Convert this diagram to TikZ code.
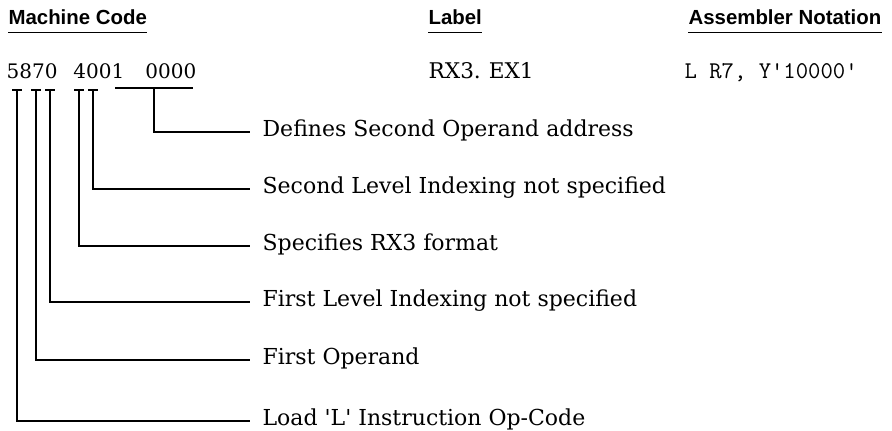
\documentclass[tikz,border=0pt]{standalone}
\usepackage{fontspec}
\newfontfamily\headfont{Liberation Sans}
\newfontfamily\bodyfont{DejaVu Serif}

\begin{document}
\begin{tikzpicture}[x=0.5pt,y=-0.5pt,line width=0.6pt,
		head/.style={font=\headfont\bfseries\fontsize{10.2}{12}\selectfont,inner sep=0pt,anchor=base west},
		code/.style={font=\bodyfont\fontsize{10}{12}\selectfont,inner sep=0pt,anchor=base west},
		desc/.style={font=\bodyfont\fontsize{11}{13}\selectfont,inner xsep=6pt,inner ysep=0pt,
			text height=8pt,text depth=3pt,anchor=west}]
				\useasboundingbox (0,0) rectangle (892,431);
				% column headings
				\node[head] (MC) at (8,25) {Machine Code};
				\node[head] (LB) at (428,25) {Label};
				\node[head] (AN) at (688,25) {Assembler Notation};
				\foreach \h in {MC,LB,AN}
					\draw ([yshift=-3.5pt]\h.south west) -- ([yshift=-3.5pt]\h.south east);
				% the instruction
				\node[code] (HEX) at (6,79) {5870\hspace{8pt}4001\hspace{10.5pt}0000};
				\node[code,font=\bodyfont\fontsize{10.8}{12}\selectfont] (SYM) at (428,79) {RX3.\hspace{4pt}EX1};
				\node[code,font=\ttfamily\fontsize{12}{14}\selectfont] (ASM) at (684,79) {L R7, Y'10000'};
				% field marks under the hex digits
				\coordinate (op) at (17,90);
				\coordinate (r1) at (36,90);
				\coordinate (x1) at (50,90);
				\coordinate (fmt) at (79,90);
				\coordinate (x2) at (93,90);
				\coordinate (addr) at (154,88);
				\foreach \f in {op,r1,x1,fmt,x2}
					\draw ([xshift=-2.5pt]\f) -- ([xshift=2.5pt]\f);
				\draw (115,88) -- (193,88);
				% field descriptions
				\node[desc] (D1) at (250,132) {Defines Second Operand address};
				\node[desc] (D2) at (250,189) {Second Level Indexing not specified};
				\node[desc] (D3) at (250,246) {Specifies RX3 format};
				\node[desc] (D4) at (250,302) {First Level Indexing not specified};
				\node[desc] (D5) at (250,360) {First Operand};
				\node[desc] (D6) at (250,421) {Load \textquotesingle L\textquotesingle\ Instruction Op-Code};
				\draw (addr) |- (D1.west);
				\draw (x2) |- (D2.west);
				\draw (fmt) |- (D3.west);
				\draw (x1) |- (D4.west);
				\draw (r1) |- (D5.west);
				\draw (op) |- (D6.west);
			\end{tikzpicture}
\end{document}
